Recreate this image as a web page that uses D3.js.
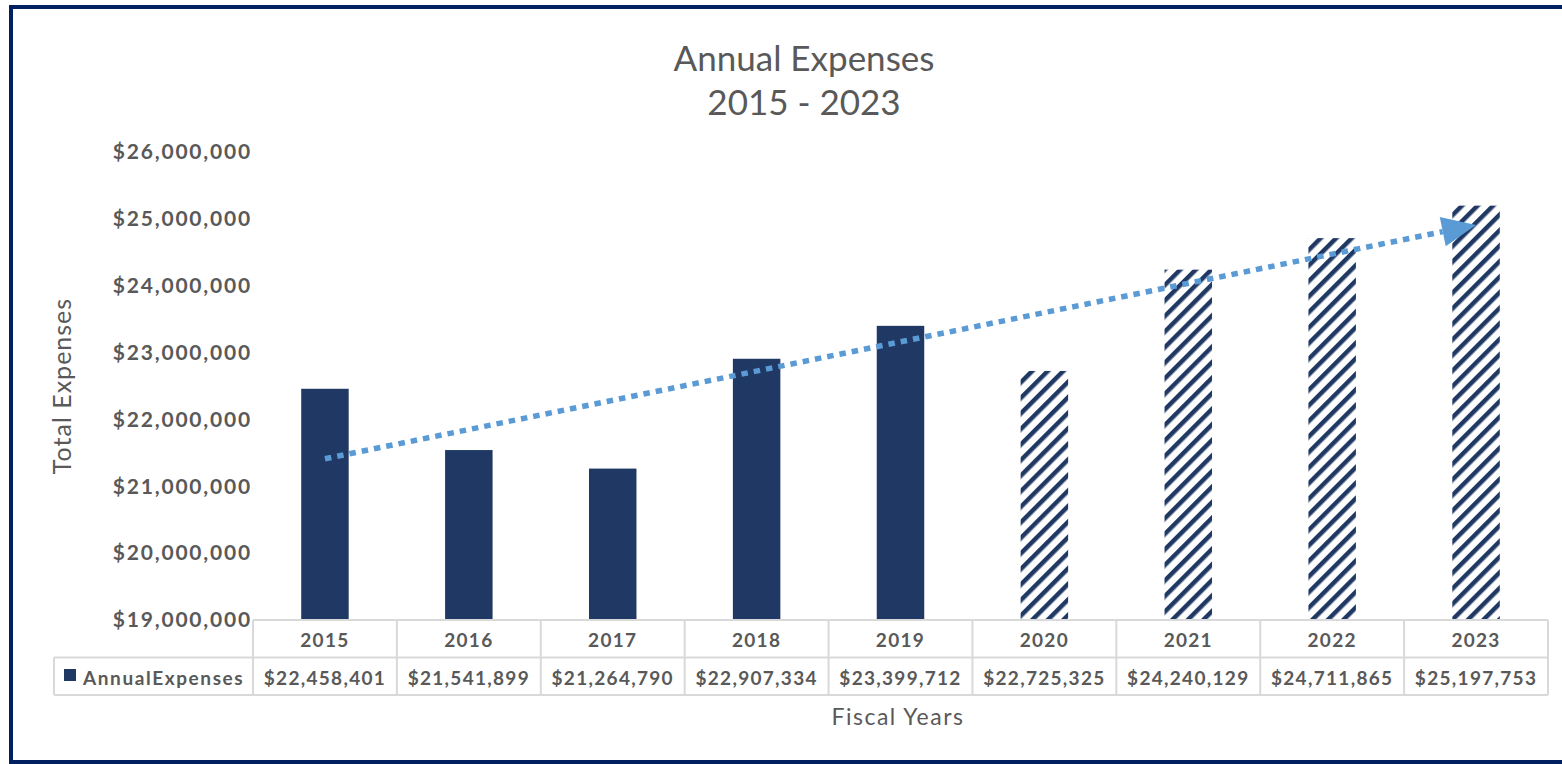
<!DOCTYPE html>
<html>
<head>
<meta charset="utf-8">
<script src="https://cdn.jsdelivr.net/npm/d3@7"></script>
<style>
  body { margin: 0; background: #fff; }
  svg { display: block; }
</style>
</head>
<body>
<div id="chart"></div>
<script>
// Data
const years = ['2015', '2016', '2017', '2018', '2019', '2020', '2021', '2022', '2023'];
const expenses = [22458401, 21541899, 21264790, 22907334, 23399712, 22725325, 24240129, 24711865, 25197753];
const estimated = [false, false, false, false, false, true, true, true, true];
const yTicks = [19000000, 20000000, 21000000, 22000000, 23000000, 24000000, 25000000, 26000000];
const seriesName = 'AnnualExpenses';

// Set up dimensions
const width = 1562;
const height = 764;
const navy = '#203864';
const grey = '#595959';
const font = 'Lato, "Open Sans", sans-serif';

const svg = d3.select('#chart')
    .append('svg')
    .attr('width', width)
    .attr('height', height);

// Hatch pattern for the estimated years
svg.append('defs')
    .append('pattern')
    .attr('id', 'hatch')
    .attr('patternUnits', 'userSpaceOnUse')
    .attr('width', 11)
    .attr('height', 11)
    .attr('patternTransform', 'rotate(45)')
    .call(p => {
        p.append('rect').attr('width', 11).attr('height', 11).attr('fill', '#fff');
        p.append('rect').attr('width', 4.5).attr('height', 11).attr('fill', navy);
    });

// Outer frame (right edge falls outside the picture)
svg.append('rect')
    .attr('x', 11)
    .attr('y', 7)
    .attr('width', width + 10)
    .attr('height', 755)
    .attr('fill', '#fff')
    .attr('stroke', '#002060')
    .attr('stroke-width', 4);

// Scales
const x = d3.scaleBand()
    .domain(years)
    .range([253, 1548]);

const y = d3.scaleLinear()
    .domain([19000000, 26000000])
    .range([620, 152]);

const barWidth = x.bandwidth() * 0.33;

// Title
svg.append('text')
    .attr('x', 804)
    .attr('y', 71)
    .attr('text-anchor', 'middle')
    .style('font-family', font)
    .style('font-size', '35px')
    .style('fill', grey)
    .text('Annual Expenses');

svg.append('text')
    .attr('x', 804)
    .attr('y', 115)
    .attr('text-anchor', 'middle')
    .style('font-family', font)
    .style('font-size', '35px')
    .style('fill', grey)
    .text('2015 - 2023');

// Y axis labels
const yAxis = svg.append('g')
    .attr('transform', 'translate(252,0)')
    .call(d3.axisLeft(y)
        .tickValues(yTicks)
        .tickSize(0)
        .tickPadding(0)
        .tickFormat(d => '$' + d3.format(',')(d)));

yAxis.select('.domain').remove();
yAxis.selectAll('text')
    .style('font-family', font)
    .style('font-size', '21px')
    .style('font-weight', 'bold')
    .style('letter-spacing', '1.8px')
    .style('fill', grey);

// Axis titles
svg.append('text')
    .attr('transform', 'translate(71,386) rotate(-90)')
    .attr('text-anchor', 'middle')
    .style('font-family', font)
    .style('font-size', '25px')
    .style('letter-spacing', '1px')
    .style('fill', grey)
    .text('Total Expenses');

svg.append('text')
    .attr('x', 898)
    .attr('y', 725)
    .attr('text-anchor', 'middle')
    .style('font-family', font)
    .style('font-size', '23px')
    .style('letter-spacing', '1.5px')
    .style('fill', grey)
    .text('Fiscal Years');

// Bars
svg.append('g')
    .selectAll('rect')
    .data(years)
    .enter()
    .append('rect')
    .attr('x', d => x(d) + x.bandwidth() / 2 - barWidth / 2)
    .attr('y', (d, i) => y(expenses[i]))
    .attr('width', barWidth)
    .attr('height', (d, i) => y(19000000) - y(expenses[i]))
    .attr('fill', (d, i) => estimated[i] ? 'url(#hatch)' : navy);

// Trend line (least squares over the years)
const idx = years.map((d, i) => i);
const meanX = d3.mean(idx);
const meanY = d3.mean(expenses);
const slope = d3.sum(idx, i => (i - meanX) * (expenses[i] - meanY)) / d3.sum(idx, i => (i - meanX) ** 2);
const trend = i => meanY + slope * (i - meanX);

const x0 = x(years[0]) + x.bandwidth() / 2;
const y0 = y(trend(0));
const x1 = x(years[years.length - 1]) + x.bandwidth() / 2;
const y1 = y(trend(years.length - 1));
const ang = Math.atan2(y1 - y0, x1 - x0);
const headLen = 34;
const headHalf = 15;
const bx = x1 - headLen * Math.cos(ang);
const by = y1 - headLen * Math.sin(ang);

svg.append('line')
    .attr('x1', x0)
    .attr('y1', y0)
    .attr('x2', bx)
    .attr('y2', by)
    .attr('stroke', '#5b9bd5')
    .attr('stroke-width', 5.5)
    .attr('stroke-dasharray', '6.5 6');

svg.append('path')
    .attr('d', d3.line()([
        [x1, y1],
        [bx + headHalf * Math.sin(ang), by - headHalf * Math.cos(ang)],
        [bx - headHalf * Math.sin(ang), by + headHalf * Math.cos(ang)]
    ]) + 'Z')
    .attr('fill', '#5b9bd5');

// Data table
const tableTop = 620;
const rowH = 37.5;
const lineColor = '#d9d9d9';
const table = svg.append('g');

// horizontal lines
table.append('line').attr('x1', 253).attr('x2', 1548).attr('y1', tableTop).attr('y2', tableTop);
table.append('line').attr('x1', 54).attr('x2', 1548).attr('y1', tableTop + rowH).attr('y2', tableTop + rowH);
table.append('line').attr('x1', 54).attr('x2', 1548).attr('y1', tableTop + 2 * rowH).attr('y2', tableTop + 2 * rowH);
// vertical lines
table.append('line').attr('x1', 54).attr('x2', 54).attr('y1', tableTop + rowH).attr('y2', tableTop + 2 * rowH);
table.selectAll('.vline')
    .data(years.concat(['end']))
    .enter()
    .append('line')
    .attr('class', 'vline')
    .attr('x1', (d, i) => i < years.length ? x(d) : x.range()[1])
    .attr('x2', (d, i) => i < years.length ? x(d) : x.range()[1])
    .attr('y1', tableTop)
    .attr('y2', tableTop + 2 * rowH);
table.selectAll('line')
    .attr('stroke', lineColor)
    .attr('stroke-width', 2);

const cellText = sel => sel
    .attr('text-anchor', 'middle')
    .attr('dominant-baseline', 'central')
    .style('font-family', font)
    .style('font-size', '19px')
    .style('font-weight', 'bold')
    .style('letter-spacing', '1.3px')
    .style('fill', grey);

table.selectAll('.year')
    .data(years)
    .enter()
    .append('text')
    .attr('class', 'year')
    .attr('x', d => x(d) + x.bandwidth() / 2)
    .attr('y', tableTop + rowH / 2 + 1)
    .call(cellText)
    .text(d => d);

table.selectAll('.val')
    .data(years)
    .enter()
    .append('text')
    .attr('class', 'val')
    .attr('x', d => x(d) + x.bandwidth() / 2)
    .attr('y', tableTop + rowH * 1.5 + 1)
    .call(cellText)
    .text((d, i) => '$' + d3.format(',')(expenses[i]));

// Legend key
table.append('rect')
    .attr('x', 64)
    .attr('y', 669)
    .attr('width', 12)
    .attr('height', 12)
    .attr('fill', navy);

table.append('text')
    .attr('x', 83)
    .attr('y', tableTop + rowH * 1.5 + 1)
    .call(cellText)
    .attr('text-anchor', 'start')
    .style('letter-spacing', '1.6px')
    .text(seriesName);
</script>
</body>
</html>
